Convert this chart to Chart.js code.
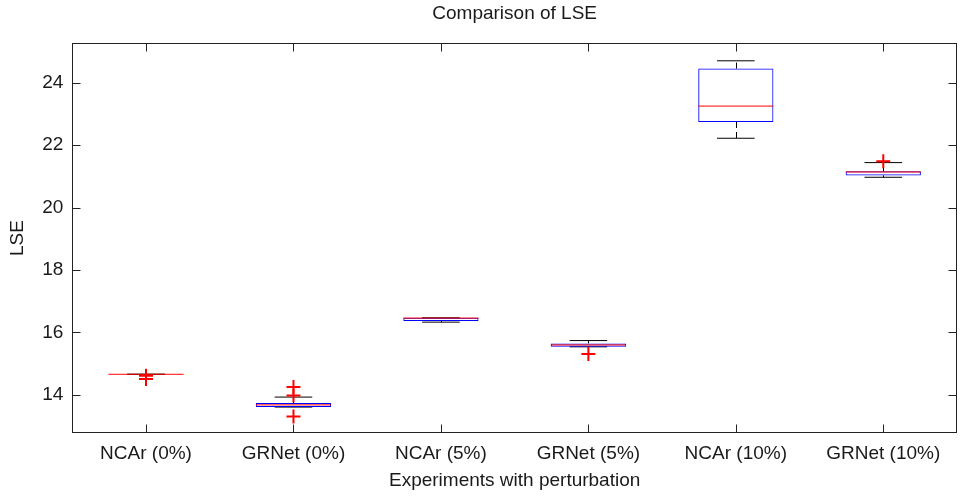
<!DOCTYPE html>
<html>
<head>
<meta charset="utf-8">
<script src="https://cdn.jsdelivr.net/npm/chart.js@4.4.0/dist/chart.umd.min.js"></script>
<style>
  html, body { margin: 0; padding: 0; background: #fff; }
  #wrap { width: 960px; height: 496px; }
</style>
</head>
<body>
<div id="wrap"><canvas id="lseChart" width="960" height="496"></canvas></div>
<script>
// Box plot statistics per experiment
const categories = ['NCAr (0%)', 'GRNet (0%)', 'NCAr (5%)', 'GRNet (5%)', 'NCAr (10%)', 'GRNet (10%)'];
const lowerWhisker = [14.66, 13.61, 16.33, 15.54, 22.22, 20.97];
const q1 = [14.66, 13.61, 16.37, 15.54, 22.74, 21.03];
const median = [14.66, 13.68, 16.46, 15.60, 23.25, 21.14];
const q3 = [14.66, 13.74, 16.47, 15.65, 24.45, 21.16];
const upperWhisker = [14.66, 13.93, 16.47, 15.74, 24.70, 21.44];
const outliers = [[14.61, 14.51], [14.25, 13.98, 13.31], [], [15.31], [], [21.48]];
const yTicks = [14, 16, 18, 20, 22, 24];

const textColor = '#1a1a1a';
const fontFamily = '"Liberation Sans", Arial, Helvetica, sans-serif';
const fontSize = 19;

const outlierPoints = [];
outliers.forEach((vals, i) => {
    vals.forEach(v => outlierPoints.push({ x: categories[i], y: v }));
});

function strokeLine(ctx, x1, y1, x2, y2) {
    ctx.beginPath();
    ctx.moveTo(x1, y1);
    ctx.lineTo(x2, y2);
    ctx.stroke();
}

// whiskers, caps, medians, plus the boxed axes with inward ticks
const boxPlotLines = {
    id: 'boxPlotLines',
    beforeDatasetsDraw(chart) {
        const ctx = chart.ctx;
        const y = chart.scales.y;
        const meta = chart.getDatasetMeta(0);
        ctx.save();
        ctx.strokeStyle = '#000';
        ctx.lineWidth = 1;
        meta.data.forEach((bar, i) => {
            const { x, width } = bar.getProps(['x', 'width'], true);
            const cx = Math.round(x) + 0.5;
            const yUp = y.getPixelForValue(upperWhisker[i]);
            const yLo = y.getPixelForValue(lowerWhisker[i]);
            ctx.setLineDash([6, 4]);
            strokeLine(ctx, cx, y.getPixelForValue(q3[i]), cx, yUp);
            strokeLine(ctx, cx, y.getPixelForValue(q1[i]), cx, yLo);
            ctx.setLineDash([]);
            strokeLine(ctx, x - width / 4, yUp, x + width / 4, yUp);
            strokeLine(ctx, x - width / 4, yLo, x + width / 4, yLo);
        });
        ctx.restore();
    },
    afterDatasetDraw(chart, args) {
        if (args.index !== 0) return;
        const ctx = chart.ctx;
        const y = chart.scales.y;
        ctx.save();
        ctx.strokeStyle = '#ff0000';
        ctx.lineWidth = 1;
        args.meta.data.forEach((bar, i) => {
            const { x, width } = bar.getProps(['x', 'width'], true);
            const ym = y.getPixelForValue(median[i]);
            strokeLine(ctx, x - width / 2, ym, x + width / 2, ym);
        });
        ctx.restore();
    },
    afterDraw(chart) {
        const ctx = chart.ctx;
        const { left, right, top, bottom } = chart.chartArea;
        const L = Math.round(left) + 0.5, R = Math.round(right) - 0.5;
        const T = Math.round(top) + 0.5, B = Math.round(bottom) - 0.5;
        const tick = 8;
        ctx.save();
        ctx.strokeStyle = '#222';
        ctx.lineWidth = 1;
        ctx.strokeRect(L, T, R - L, B - T);
        const y = chart.scales.y;
        yTicks.forEach(v => {
            const py = Math.round(y.getPixelForValue(v)) + 0.5;
            strokeLine(ctx, L, py, L + tick, py);
            strokeLine(ctx, R, py, R - tick, py);
        });
        const xs = chart.scales.x;
        categories.forEach((c, i) => {
            const px = Math.round(xs.getPixelForValue(i)) + 0.5;
            strokeLine(ctx, px, B, px, B - tick);
            strokeLine(ctx, px, T, px, T + tick);
        });
        ctx.restore();
    }
};

const lseCtx = document.getElementById('lseChart').getContext('2d');
const lseChart = new Chart(lseCtx, {
    type: 'bar',
    data: {
        labels: categories,
        datasets: [{
            type: 'bar',
            label: 'Box',
            data: categories.map((c, i) => [q1[i], q3[i]]),
            backgroundColor: 'rgba(255, 255, 255, 0)',
            borderColor: '#0000ff',
            borderWidth: 1,
            borderSkipped: false,
            barPercentage: 0.51,
            categoryPercentage: 1,
            order: 2
        }, {
            type: 'line',
            label: 'Outliers',
            data: outlierPoints,
            showLine: false,
            pointStyle: 'cross',
            pointRadius: 7,
            pointHoverRadius: 7,
            pointBorderColor: '#ff0000',
            pointBorderWidth: 2,
            borderColor: '#ff0000',
            order: 1
        }]
    },
    options: {
        responsive: false,
        animation: false,
        events: [],
        layout: {
            autoPadding: false,
            padding: { left: 0, right: 3, top: 0, bottom: 0 }
        },
        plugins: {
            legend: { display: false },
            tooltip: { enabled: false },
            title: {
                display: true,
                fullSize: false,
                text: 'Comparison of LSE',
                color: textColor,
                font: { family: fontFamily, size: fontSize, weight: 'normal' },
                padding: { top: 2.6, bottom: 17.3 }
            }
        },
        scales: {
            x: {
                type: 'category',
                offset: true,
                grid: { display: false, drawTicks: false },
                border: { display: false },
                ticks: {
                    color: textColor,
                    padding: 9,
                    maxRotation: 0,
                    autoSkip: false,
                    font: { family: fontFamily, size: fontSize }
                },
                title: {
                    display: true,
                    text: 'Experiments with perturbation',
                    color: textColor,
                    font: { family: fontFamily, size: fontSize },
                    padding: { top: 0, bottom: 3.6 }
                },
                afterFit: (scale) => {
                    scale.height = 62.7;
                    scale.paddingLeft = 0;
                    scale.paddingRight = 0;
                }
            },
            y: {
                min: 12.77,
                max: 25.28,
                afterBuildTicks: (scale) => {
                    scale.ticks = yTicks.map(v => ({ value: v }));
                },
                grid: { display: false, drawTicks: false },
                border: { display: false },
                ticks: {
                    color: textColor,
                    padding: 9,
                    font: { family: fontFamily, size: fontSize }
                },
                title: {
                    display: true,
                    text: 'LSE',
                    color: textColor,
                    font: { family: fontFamily, size: fontSize },
                    padding: { top: 6.6, bottom: 0 }
                },
                afterFit: (scale) => { scale.width = 72.3; }
            }
        }
    },
    plugins: [boxPlotLines]
});
</script>
</body>
</html>
